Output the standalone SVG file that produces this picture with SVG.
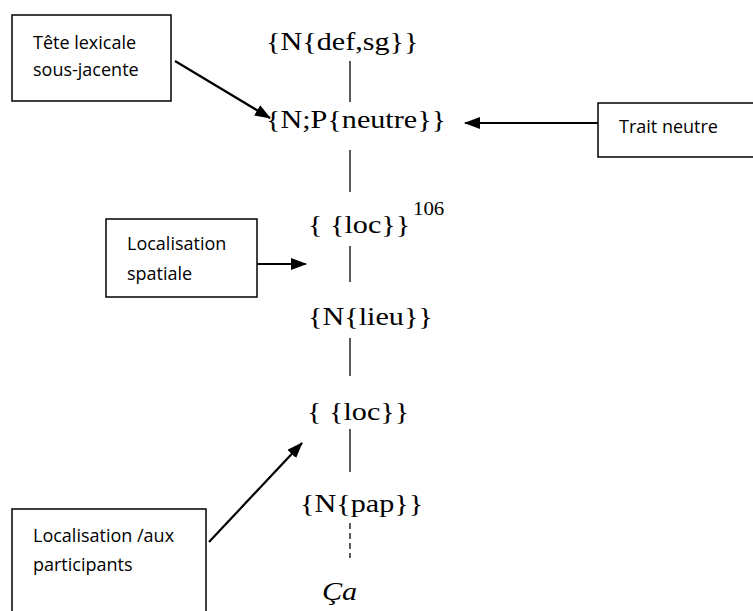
<svg xmlns="http://www.w3.org/2000/svg" width="753" height="611" viewBox="0 0 753 611">
<style>
.box{fill:#fff;stroke:#000;stroke-width:1.5}
.lbl{font-family:"Open Sans","Liberation Sans",sans-serif;font-size:18px;fill:#000}
.tm{font-family:"Liberation Serif","Times New Roman",serif;font-size:26px;fill:#000}
.arr{stroke:#000;stroke-width:2.2;fill:none;marker-end:url(#ah)}
.vl{stroke:#000;stroke-width:1.3;fill:none}
</style>
<defs>
<marker id="ah" markerWidth="16" markerHeight="12" refX="15" refY="6" orient="auto" markerUnits="userSpaceOnUse">
<path d="M0,0 L16,6 L0,12 Z" fill="#000"/>
</marker>
</defs>
<rect width="753" height="611" fill="#fff"/>
<g id="n-defsg"><text class="tm" transform="translate(266,50) scale(1.16,1)">{N{def,sg}}</text></g>
<g id="n-neutre"><text class="tm" transform="translate(266,128) scale(1.16,1)">{N;P{neutre}}</text></g>
<g id="n-loc1"><text class="tm" transform="translate(308,233) scale(1.16,1)">{ {loc}}</text><text class="tm" transform="translate(413,215) scale(1.16,1)" style="font-size:18px">106</text></g>
<g id="n-lieu"><text class="tm" transform="translate(308,325) scale(1.16,1)">{N{lieu}}</text></g>
<g id="n-loc2"><text class="tm" transform="translate(307,420) scale(1.16,1)">{ {loc}}</text></g>
<g id="n-pap"><text class="tm" transform="translate(300,512) scale(1.16,1)">{N{pap}}</text></g>
<g id="n-ca"><text class="tm" transform="translate(322,600) scale(1.16,1)" style="font-style:italic">Ça</text></g>
<g id="b-tete"><rect class="box" x="12" y="15" width="159" height="86"/><text class="lbl" x="33" y="49">Tête lexicale</text><text class="lbl" x="33" y="76">sous-jacente</text></g>
<g id="b-trait"><rect class="box" x="598" y="103" width="156" height="54"/><text class="lbl" x="619" y="133">Trait neutre</text></g>
<g id="b-spatiale"><rect class="box" x="106" y="219" width="151" height="78"/><text class="lbl" x="127" y="250">Localisation</text><text class="lbl" x="127" y="280">spatiale</text></g>
<g id="b-part"><rect class="box" x="12" y="509" width="194" height="110"/><text class="lbl" x="33" y="542">Localisation /aux</text><text class="lbl" x="33" y="571">participants</text></g>
<g id="connectors">
<line class="vl" x1="350" y1="61" x2="350" y2="102"/>
<line class="vl" x1="350" y1="150" x2="350" y2="192"/>
<line class="vl" x1="350" y1="246" x2="350" y2="282"/>
<line class="vl" x1="350" y1="338" x2="350" y2="376"/>
<line class="vl" x1="350" y1="429" x2="350" y2="472"/>
<line class="vl" x1="350" y1="523" x2="350" y2="558" stroke-dasharray="6,4"/>
<line class="arr" x1="175" y1="61" x2="270" y2="118"/>
<line class="arr" x1="598" y1="123" x2="465" y2="123"/>
<line class="arr" x1="257" y1="264" x2="306" y2="264"/>
<line class="arr" x1="209" y1="542" x2="302" y2="443"/>
</g>
</svg>
